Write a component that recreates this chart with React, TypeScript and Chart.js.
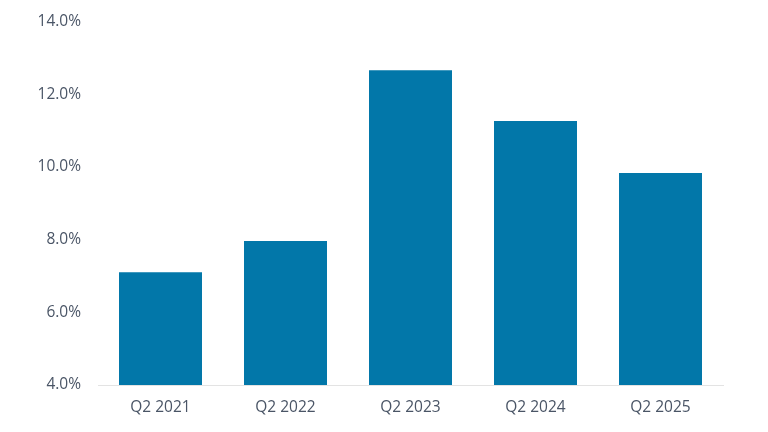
import React, { useEffect, useRef } from "react";
import { Chart, registerables } from "chart.js";

Chart.register(...registerables);

const quarters = ["Q2 2021", "Q2 2022", "Q2 2023", "Q2 2024", "Q2 2025"];
const rates = [7.1, 7.96, 12.66, 11.26, 9.83];
const yTicks = [4, 6, 8, 10, 12, 14];

const labelColor = "#4a5566";
const barColor = "#0277a9";
const fontFamily = "'Open Sans', 'Noto Sans', sans-serif";

const App: React.FC = () => {
  const canvasRef = useRef<HTMLCanvasElement | null>(null);

  useEffect(() => {
    if (!canvasRef.current) return;

    const chart = new Chart(canvasRef.current, {
      type: "bar",
      data: {
        labels: quarters,
        datasets: [
          {
            data: rates,
            backgroundColor: barColor,
            borderWidth: 0,
            categoryPercentage: 1,
            barPercentage: 0.664,
          },
        ],
      },
      options: {
        animation: false,
        responsive: false,
        maintainAspectRatio: false,
        layout: { padding: { top: 21.5, right: 45, left: 0, bottom: 0 } },
        plugins: {
          legend: { display: false },
          tooltip: { enabled: false },
        },
        scales: {
          x: {
            grid: { display: false, drawTicks: false },
            border: { display: true, color: "#e3e3e3", width: 1 },
            ticks: {
              color: labelColor,
              font: { family: fontFamily, size: 15.5 },
              padding: 13,
              maxRotation: 0,
            },
            afterFit: (scale: any) => {
              scale.height = 47;
              scale.paddingLeft = 0;
              scale.paddingRight = 0;
            },
          },
          y: {
            min: yTicks[0],
            max: yTicks[yTicks.length - 1],
            grid: { display: false, drawTicks: false },
            border: { display: false },
            ticks: {
              stepSize: 2,
              color: labelColor,
              font: { family: fontFamily, size: 15.5 },
              padding: 17,
              callback: (v: any) => Number(v).toFixed(1) + "%",
            },
            afterFit: (scale: any) => {
              scale.width = 98;
              scale.paddingTop = 0;
              scale.paddingBottom = 0;
            },
          },
        },
      },
    });

    return () => {
      chart.destroy();
    };
  }, []);

  return (
    <div style={{ position: "fixed", left: 0, top: 0, width: 768, height: 432, background: "#ffffff" }}>
      <canvas ref={canvasRef} width={768} height={432} style={{ width: 768, height: 432 }} />
    </div>
  );
};

export default App;
